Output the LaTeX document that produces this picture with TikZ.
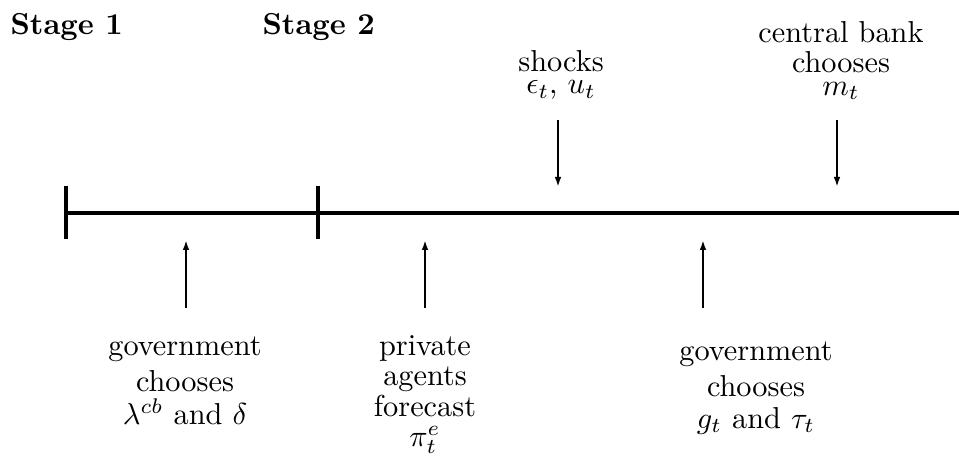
\documentclass[tikz,border=0pt]{standalone}
\usetikzlibrary{arrows.meta}
\newcommand\mylinesp[1]{\fontsize{10}{#1}\selectfont\lineskiplimit=-20pt\relax}
\begin{document}
\begin{tikzpicture}[x=0.33pt,y=-0.33pt,
  axis/.style={line width=1.1pt},
  evarrow/.style={line width=0.65pt,-{Latex[length=3.3pt,width=2.2pt]}},
  lbl/.style={align=center,inner sep=0pt,anchor=north},
  stagelbl/.style={font=\bfseries,inner sep=0pt,anchor=base west}]
\useasboundingbox (0,0) rectangle (959,460);
% time line
\coordinate (L0) at (66,213);
\coordinate (L1) at (959,213);
\coordinate (T1a) at (66,186);
\coordinate (T1b) at (66,239);
\coordinate (T2a) at (318,186);
\coordinate (T2b) at (318,239);
\draw[axis] (L0) -- (L1);
\draw[axis] (T1a) -- (T1b);
\draw[axis] (T2a) -- (T2b);
% stage labels
\node[stagelbl] (s1) at (10,35) {Stage 1};
\node[stagelbl] (s2) at (262,35) {Stage 2};
% event labels
\node[lbl,font={\mylinesp{7.3pt}}] (shocks) at (561,50) {shocks\\$\epsilon_t$, $u_t$};
\node[lbl,font={\mylinesp{10pt}}] (cb) at (841,21) {central bank\\chooses\\[-2.7pt]$m_t$};
\node[lbl,font={\mylinesp{12pt}}] (gov1) at (185,336) {government\\chooses\\[-1pt]$\lambda^{cb}$ and $\delta$};
\node[lbl,font={\mylinesp{10pt}}] (priv) at (425,335) {private\\agents\\forecast\\$\pi^e_t$};
\node[lbl,font={\mylinesp{12pt}}] (gov2) at (756,341) {government\\chooses\\[-1.5pt]$g_t$ and $\tau_t$};
% arrows
\coordinate (A1s) at (186,308); \coordinate (A1e) at (186,240);
\coordinate (A2s) at (425,308); \coordinate (A2e) at (425,240);
\coordinate (A3s) at (703,308); \coordinate (A3e) at (703,240);
\coordinate (D1s) at (558,120); \coordinate (D1e) at (558,187);
\coordinate (D2s) at (837,120); \coordinate (D2e) at (837,187);
\draw[evarrow] (A1s) -- (A1e);
\draw[evarrow] (A2s) -- (A2e);
\draw[evarrow] (A3s) -- (A3e);
\draw[evarrow] (D1s) -- (D1e);
\draw[evarrow] (D2s) -- (D2e);
\end{tikzpicture}
\end{document}
